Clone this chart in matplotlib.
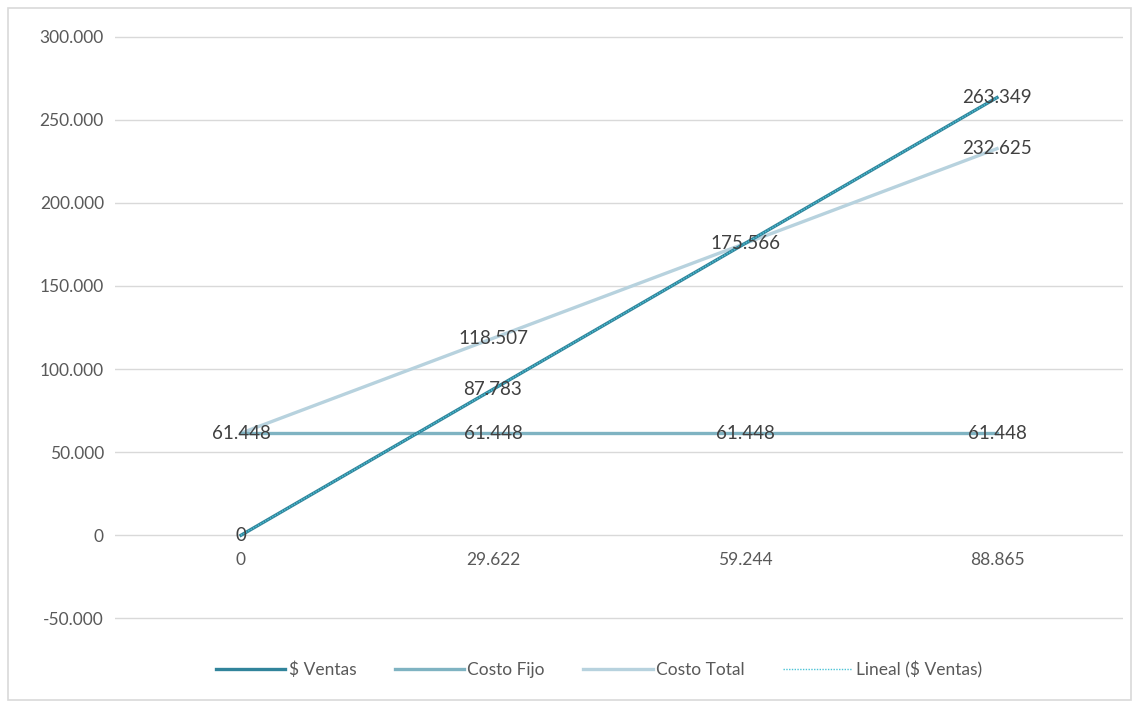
import numpy as np
import matplotlib
matplotlib.use("Agg")
import matplotlib.pyplot as plt
from matplotlib.patches import Rectangle
from matplotlib.ticker import FuncFormatter

# unidades (eje x) y series del punto de equilibrio
unidades = ["0", "29.622", "59.244", "88.865"]
ventas = [0, 87783, 175566, 263349]
costo_fijo = [61448, 61448, 61448, 61448]
costo_total = [61448, 118507, 175566, 232625]

c_ventas = "#31849B"
c_fijo = "#7FB3C2"
c_total = "#B7D2DE"
c_lineal = "#4BC3D6"
c_texto = "#595959"
c_label = "#404040"

plt.rcParams["font.family"] = ["Lato", "DejaVu Sans"]


def miles(v, pos=None):
    return f"{v:,.0f}".replace(",", ".")


fig = plt.figure(figsize=(11.39, 7.04), dpi=100)
fig.patches.append(Rectangle((8 / 1139, 4 / 704), 1123 / 1139, 692 / 704,
                             transform=fig.transFigure, fill=False,
                             edgecolor="#D9D9D9", linewidth=1.2))
ax = fig.add_axes([115 / 1139, 1 - 620 / 704, 1008 / 1139, 585 / 704])

x = np.arange(len(unidades))
ax.plot(x, ventas, color=c_ventas, lw=2.4, label="$ Ventas", zorder=4)
ax.plot(x, costo_fijo, color=c_fijo, lw=2.4, label="Costo Fijo", zorder=3)
ax.plot(x, costo_total, color=c_total, lw=2.4, label="Costo Total", zorder=2)

# tendencia lineal de las ventas
m, b = np.polyfit(x, ventas, 1)
ax.plot(x, m * x + b, color=c_lineal, lw=1.0, ls=(0, (1, 1)),
        label="Lineal ($ Ventas)", zorder=5)

# etiquetas de datos
for serie in (ventas, costo_fijo, costo_total):
    for xi, v in zip(x, serie):
        if serie is costo_total and v in (costo_fijo[xi], ventas[xi]):
            continue
        ax.text(xi, v, miles(v), ha="center", va="center", fontsize=13.5,
                color=c_label, zorder=6)

ax.set_xlim(-0.5, len(unidades) - 0.5)
ax.set_ylim(-51000, 301000)
ax.set_yticks(np.arange(-50000, 300001, 50000))
ax.yaxis.set_major_formatter(FuncFormatter(miles))
ax.grid(axis="y", color="#D9D9D9", lw=1.0)
ax.set_axisbelow(True)
for s in ax.spines.values():
    s.set_visible(False)
ax.spines["bottom"].set_position(("data", 0))
ax.set_xticks(x)
ax.set_xticklabels(unidades)
ax.tick_params(axis="both", length=0, labelsize=12.5, colors=c_texto)
ax.tick_params(axis="x", pad=12)
ax.tick_params(axis="y", pad=8)

ax.legend(loc="center", bbox_to_anchor=(0.48, -0.085), ncol=4, frameon=False,
          fontsize=12.5, labelcolor=c_texto, handlelength=4.0, columnspacing=2.2,
          handletextpad=0.2)

fig.savefig("out.png", dpi=100, facecolor="white")
